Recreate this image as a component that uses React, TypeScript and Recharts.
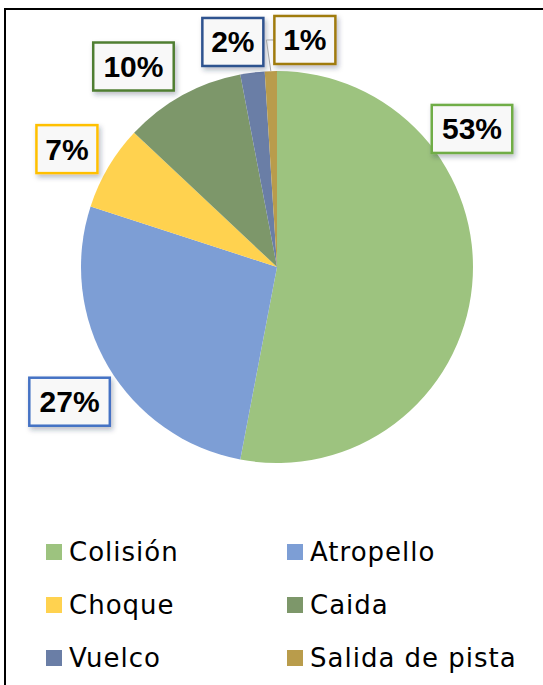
import { Cell, Legend, Pie, PieChart } from "recharts";

const CATEGORIES = ["Colisión", "Atropello", "Choque", "Caida", "Vuelco", "Salida de pista"];
const SHARES = [53, 27, 7, 10, 2, 1];

const SLICE_COLOR = ["#9DC37F", "#7D9ED5", "#FFD24F", "#7D976A", "#6A7EA6", "#B99C4B"];
const BOX_BORDER = ["#70AD47", "#4472C4", "#FFC000", "#507E32", "#2F528F", "#A07C10"];

// where each data label box sits: angle clockwise from 12 o'clock, radius in outerRadius units
const LABEL_ANGLE = [54.7, 237.0, 299.3, 324.4, 348.9, 7.0];
const LABEL_RADIUS = [1.219, 1.262, 1.229, 1.258, 1.17, 1.167];

const data = CATEGORIES.map((name, i) => ({ name, value: SHARES[i] }));

const CX = 277;
const CY = 267;
const R = 196;
const RAD = Math.PI / 180;

function renderLabel(props: any) {
  const { index, percent, midAngle } = props;
  const cx = typeof props.cx === "number" ? props.cx : CX;
  const cy = typeof props.cy === "number" ? props.cy : CY;
  const outer = typeof props.outerRadius === "number" ? props.outerRadius : R;
  const a = LABEL_ANGLE[index] * RAD;
  const dist = LABEL_RADIUS[index] * outer;
  const x = cx + dist * Math.sin(a);
  const y = cy - dist * Math.cos(a);
  const text = `${Math.round(percent * 100)}%`;
  const w = text.length * 19.5 + 22;
  const h = 48;

  let leader = null;
  if (index === 5) {
    const ex = cx + outer * Math.cos(-midAngle * RAD);
    const ey = cy + outer * Math.sin(-midAngle * RAD);
    const bx = x - w / 2;
    leader = (
      <polyline
        points={`${bx},${y} ${bx - 8},${y} ${ex},${ey}`}
        fill="none"
        stroke="#A6A6A6"
        strokeWidth={1}
      />
    );
  }

  return (
    <g key={`lbl-${index}`}>
      {leader}
      <rect
        x={x - w / 2}
        y={y - h / 2}
        width={w}
        height={h}
        fill="#F8F8F8"
        stroke={BOX_BORDER[index]}
        strokeWidth={2.5}
        filter="url(#boxShadow)"
      />
      <text
        x={x}
        y={y}
        textAnchor="middle"
        dominantBaseline="central"
        fontFamily="'Liberation Sans', Arial, sans-serif"
        fontWeight={700}
        fontSize={30}
        fill="#000"
      >
        {text}
      </text>
    </g>
  );
}

function renderLegend(props: any) {
  const items = [...(props.payload ?? [])].sort(
    (a: any, b: any) => CATEGORIES.indexOf(a.value) - CATEGORIES.indexOf(b.value)
  );
  return (
    <div style={{ position: "relative", width: 543, height: 160 }}>
      {items.map((entry: any, i: number) => (
        <div
          key={entry.value}
          style={{
            position: "absolute",
            left: i % 2 === 0 ? 46 : 287,
            top: Math.floor(i / 2) * 53,
            height: 53,
            display: "flex",
            alignItems: "center",
          }}
        >
          <span
            style={{
              width: 16,
              height: 16,
              background: entry.color ?? SLICE_COLOR[i],
              marginRight: 7,
              display: "inline-block",
            }}
          />
          <span
            style={{
              fontFamily: "'DejaVu Sans', sans-serif",
              fontSize: 26,
              letterSpacing: 1,
              color: "#000",
              lineHeight: "30px",
            }}
          >
            {entry.value}
          </span>
        </div>
      ))}
    </div>
  );
}

export default function App() {
  return (
    <div
      style={{
        position: "absolute",
        left: 0,
        top: 0,
        width: 543,
        height: 685,
        overflow: "hidden",
        background: "#fff",
      }}
    >
      <div
        style={{
          position: "absolute",
          left: 4,
          top: 8,
          width: 600,
          height: 700,
          borderTop: "2.5px solid #000",
          borderLeft: "2.5px solid #000",
        }}
      />
      <PieChart
        width={543}
        height={685}
        margin={{ top: 0, right: 0, bottom: 0, left: 0 }}
        style={{ position: "absolute", left: 0, top: 0 }}
      >
        <defs>
          <filter id="boxShadow" x="-30%" y="-30%" width="160%" height="170%">
            <feDropShadow dx="2" dy="3" stdDeviation="2.5" floodColor="#1F2D4A" floodOpacity="0.3" />
          </filter>
        </defs>
        <Pie
          data={data}
          dataKey="value"
          nameKey="name"
          cx={CX}
          cy={CY}
          outerRadius={R}
          startAngle={90}
          endAngle={-270}
          stroke="none"
          label={renderLabel}
          labelLine={false}
          isAnimationActive={false}
        >
          {data.map((d, i) => (
            <Cell key={d.name} fill={SLICE_COLOR[i]} />
          ))}
        </Pie>
        <Legend
          content={renderLegend}
          wrapperStyle={{ position: "absolute", top: 525, left: 0, width: 543, height: 160 }}
        />
      </PieChart>
    </div>
  );
}
